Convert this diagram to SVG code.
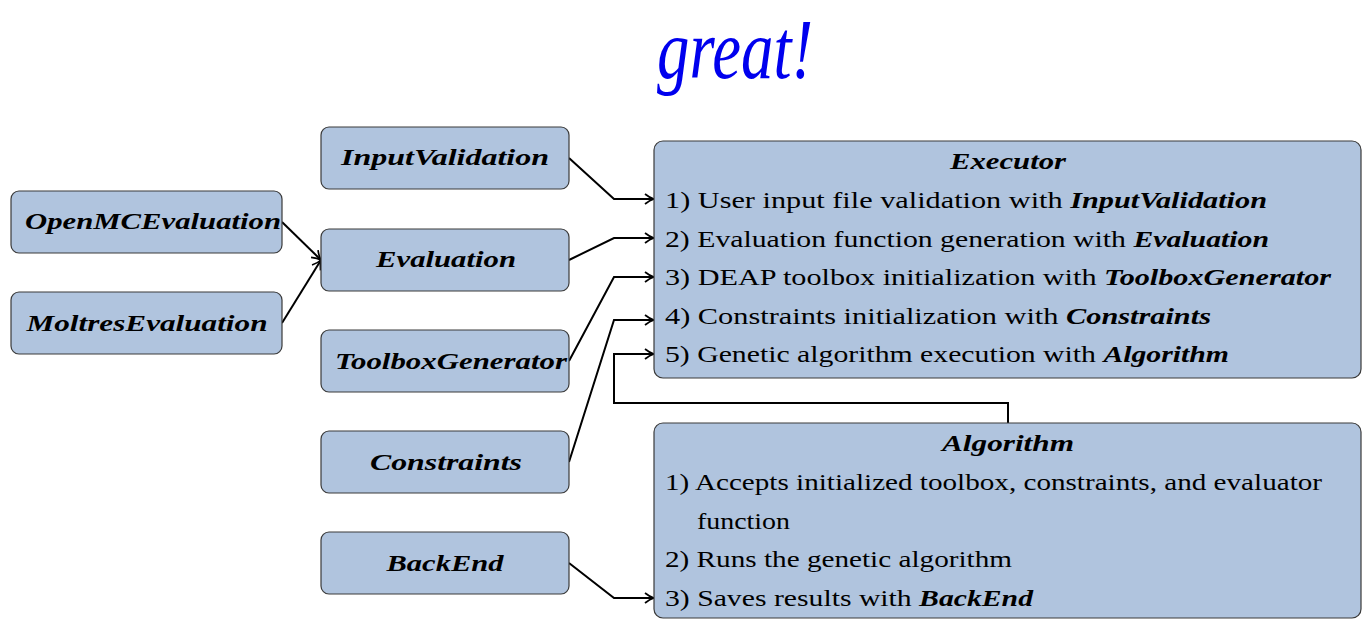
<svg xmlns="http://www.w3.org/2000/svg" width="1368" height="619" viewBox="0 0 1368 619">
<defs>
<style>
.box{fill:#B0C4DE;stroke:#3a3a3a;stroke-width:1.2}
.nm{font-family:"Liberation Serif",serif;font-weight:bold;font-style:italic;font-size:24px;fill:#000}
.tx{font-family:"Liberation Serif",serif;font-size:24px;fill:#000}
.b{font-weight:bold;font-style:italic}
.con{fill:none;stroke:#000;stroke-width:2;stroke-linejoin:miter}
.hand{font-family:"Liberation Serif",serif;font-style:italic;font-size:84px;fill:#0000EE}
</style>
<marker id="arr" markerWidth="13" markerHeight="13" refX="11" refY="6.5" orient="auto" markerUnits="userSpaceOnUse">
<path d="M2,1.5 Q7,5.5 11,6.5 Q7,7.5 2,11.5" fill="none" stroke="#000" stroke-width="1.7"/>
</marker>
</defs>
<rect width="1368" height="619" fill="#fff"/>

<text id="note" class="hand" x="657" y="78" textLength="156" lengthAdjust="spacingAndGlyphs">great!</text>

<g id="connectors">
<polyline class="con" points="282,222 321,260" marker-end="url(#arr)"/>
<polyline class="con" points="282,323 321,260" marker-end="url(#arr)"/>
<polyline class="con" points="569,158 614,199 654,199" marker-end="url(#arr)"/>
<polyline class="con" points="569,260 614,238 654,238" marker-end="url(#arr)"/>
<polyline class="con" points="569,361 614,277 654,277" marker-end="url(#arr)"/>
<polyline class="con" points="569,462 614,320 654,320" marker-end="url(#arr)"/>
<polyline class="con" points="1008,423 1008,403 614,403 614,354 654,354" marker-end="url(#arr)"/>
<polyline class="con" points="569,563 614,598 654,598" marker-end="url(#arr)"/>
</g>

<g id="OpenMCEvaluation">
<rect class="box" x="11" y="191" width="271" height="62" rx="8"/>
<text class="nm" x="153" y="229" text-anchor="middle" textLength="256" lengthAdjust="spacingAndGlyphs">OpenMCEvaluation</text>
</g>
<g id="MoltresEvaluation">
<rect class="box" x="11" y="292" width="271" height="62" rx="8"/>
<text class="nm" x="147" y="331" text-anchor="middle" textLength="241" lengthAdjust="spacingAndGlyphs">MoltresEvaluation</text>
</g>
<g id="InputValidation">
<rect class="box" x="321" y="127" width="248" height="62" rx="8"/>
<text class="nm" x="445" y="165" text-anchor="middle" textLength="208" lengthAdjust="spacingAndGlyphs">InputValidation</text>
</g>
<g id="Evaluation">
<rect class="box" x="321" y="229" width="248" height="62" rx="8"/>
<text class="nm" x="446" y="267" text-anchor="middle" textLength="140" lengthAdjust="spacingAndGlyphs">Evaluation</text>
</g>
<g id="ToolboxGenerator">
<rect class="box" x="321" y="330" width="248" height="62" rx="8"/>
<text class="nm" x="451" y="369" text-anchor="middle" textLength="232" lengthAdjust="spacingAndGlyphs">ToolboxGenerator</text>
</g>
<g id="Constraints">
<rect class="box" x="321" y="431" width="248" height="62" rx="8"/>
<text class="nm" x="446" y="470" text-anchor="middle" textLength="152" lengthAdjust="spacingAndGlyphs">Constraints</text>
</g>
<g id="BackEnd">
<rect class="box" x="321" y="532" width="248" height="62" rx="8"/>
<text class="nm" x="445" y="571" text-anchor="middle" textLength="117" lengthAdjust="spacingAndGlyphs">BackEnd</text>
</g>

<g id="Executor">
<rect class="box" x="654" y="141" width="707" height="237" rx="9"/>
<text class="nm" x="1008" y="169" text-anchor="middle" textLength="116" lengthAdjust="spacingAndGlyphs">Executor</text>
<text class="tx" x="665" y="208" textLength="602" lengthAdjust="spacingAndGlyphs">1) User input file validation with <tspan class="b">InputValidation</tspan></text>
<text class="tx" x="665" y="247" textLength="604" lengthAdjust="spacingAndGlyphs">2) Evaluation function generation with <tspan class="b">Evaluation</tspan></text>
<text class="tx" x="665" y="285" textLength="666" lengthAdjust="spacingAndGlyphs">3) DEAP toolbox initialization with <tspan class="b">ToolboxGenerator</tspan></text>
<text class="tx" x="665" y="324" textLength="546" lengthAdjust="spacingAndGlyphs">4) Constraints initialization with <tspan class="b">Constraints</tspan></text>
<text class="tx" x="665" y="362" textLength="564" lengthAdjust="spacingAndGlyphs">5) Genetic algorithm execution with <tspan class="b">Algorithm</tspan></text>
</g>

<g id="Algorithm">
<rect class="box" x="654" y="423" width="707" height="195" rx="9"/>
<text class="nm" x="1008" y="451" text-anchor="middle" textLength="132" lengthAdjust="spacingAndGlyphs">Algorithm</text>
<text class="tx" x="665" y="490" textLength="657" lengthAdjust="spacingAndGlyphs">1) Accepts initialized toolbox, constraints, and evaluator</text>
<text class="tx" x="697" y="529" textLength="93" lengthAdjust="spacingAndGlyphs">function</text>
<text class="tx" x="665" y="567" textLength="347" lengthAdjust="spacingAndGlyphs">2) Runs the genetic algorithm</text>
<text class="tx" x="665" y="606" textLength="368" lengthAdjust="spacingAndGlyphs">3) Saves results with <tspan class="b">BackEnd</tspan></text>
</g>
</svg>
